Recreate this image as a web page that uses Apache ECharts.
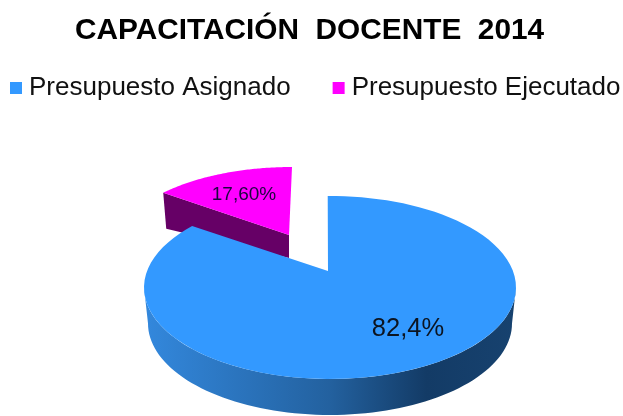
<!DOCTYPE html>
<html>
<head>
<meta charset="utf-8">
<style>
  html, body { margin: 0; padding: 0; background: #fff; }
  #chart { width: 623px; height: 416px; }
</style>
<script src="https://cdn.jsdelivr.net/npm/echarts@6/dist/echarts.min.js"></script>
</head>
<body>
<div id="chart"></div>
<script>
const titleText = 'CAPACITACIÓN  DOCENTE  2014'
const categories = ['Presupuesto Asignado', 'Presupuesto Ejecutado']
const values = [82.4, 17.6]
const valueLabels = ['82,4%', '17,60%']
const colors = ['#3399ff', '#ff00ff']

const total = values[0] + values[1]
const asignadoSweep = values[0] / total * 360
const toRad = d => d * Math.PI / 180

// el pastel esta en perspectiva: el angulo del dato se comprime hacia atras
function rimPoint (e, deg) {
  const h = toRad(deg + e.rot) / 2
  const t = 2 * Math.atan2(0.705 * Math.sin(h), Math.cos(h))
  return [e.cx + e.rx * Math.sin(t), e.cy - e.ry * Math.cos(t)]
}

function rim (e, from, to) {
  const pts = []
  for (let i = 0; i <= 80; i++) pts.push(rimPoint(e, from + (to - from) * i / 80))
  return pts
}

function ellipseArc (e, from, to) {
  const pts = []
  for (let i = 0; i <= 80; i++) {
    const t = toRad(from + (to - from) * i / 80)
    pts.push([e.cx + e.rx * Math.sin(t), e.cy - e.ry * Math.cos(t)])
  }
  return pts
}

const blueTop = { cx: 330, cy: 287.5, rx: 186, ry: 91.5, rot: -1 }
const blueBottom = { cx: 330, cy: 323.5, rx: 182, ry: 91.5, rot: 0 }
const blueApex = [328, 271]
const pinkTop = { cx: 292, cy: 248, rx: 176, ry: 81, rot: 0 }
const pinkApex = [289, 235]

function renderAsignado (params, api) {
  const sweep = api.value(0) / total * 360
  const side = ellipseArc(blueTop, 90, 270).concat(ellipseArc(blueBottom, 270, 90))
  const top = [blueApex].concat(rim(blueTop, 0, sweep))
  return {
    type: 'group',
    children: [
      {
        type: 'polygon',
        shape: { points: side },
        style: {
          fill: {
            type: 'linear', x: 0, y: 0, x2: 1, y2: 0,
            colorStops: [
              { offset: 0, color: '#3388dd' },
              { offset: 0.5, color: '#23619f' },
              { offset: 0.76, color: '#133b66' },
              { offset: 1, color: '#17426f' }
            ]
          }
        }
      },
      { type: 'polygon', shape: { points: top }, style: { fill: colors[0] } },
      {
        type: 'text',
        style: {
          text: valueLabels[0], x: 408, y: 329, align: 'center', verticalAlign: 'middle',
          font: '25.5px "Liberation Sans", Arial, sans-serif', fill: '#0c1420'
        }
      }
    ]
  }
}

function renderEjecutado (params, api) {
  const from = asignadoSweep
  const corner = rimPoint(pinkTop, from)
  const side = [corner, pinkApex, [pinkApex[0], pinkApex[1] + 23], [corner[0] + 3, corner[1] + 36]]
  const top = [pinkApex].concat(rim(pinkTop, from, from + api.value(0) / total * 360))
  return {
    type: 'group',
    children: [
      { type: 'polygon', shape: { points: side }, style: { fill: '#660066' } },
      { type: 'polygon', shape: { points: top }, style: { fill: colors[1] } },
      {
        type: 'text',
        style: {
          text: valueLabels[1], x: 244, y: 195, align: 'center', verticalAlign: 'middle',
          font: '19px "Liberation Sans", Arial, sans-serif', fill: '#1c0640'
        }
      }
    ]
  }
}

const chart = echarts.init(document.getElementById('chart'))
chart.setOption({
  backgroundColor: '#fff',
  animation: false,
  title: {
    text: titleText,
    left: 75,
    top: 16,
    padding: 0,
    textStyle: { fontFamily: '"Liberation Sans", Arial, sans-serif', fontSize: 29.8, fontWeight: 'bold', color: '#000' }
  },
  legend: {
    left: 10,
    top: 75,
    padding: 0,
    icon: 'rect',
    itemWidth: 12,
    itemHeight: 12,
    itemGap: 42,
    data: categories,
    textStyle: { fontFamily: '"Liberation Sans", Arial, sans-serif', fontSize: 26, color: '#111', padding: [0, 0, 0, 2] }
  },
  series: [
    {
      type: 'custom',
      name: categories[1],
      coordinateSystem: 'none',
      silent: true,
      itemStyle: { color: colors[1] },
      renderItem: renderEjecutado,
      data: [[values[1]]]
    },
    {
      type: 'custom',
      name: categories[0],
      coordinateSystem: 'none',
      silent: true,
      itemStyle: { color: colors[0] },
      renderItem: renderAsignado,
      data: [[values[0]]]
    }
  ]
})
</script>
</body>
</html>
